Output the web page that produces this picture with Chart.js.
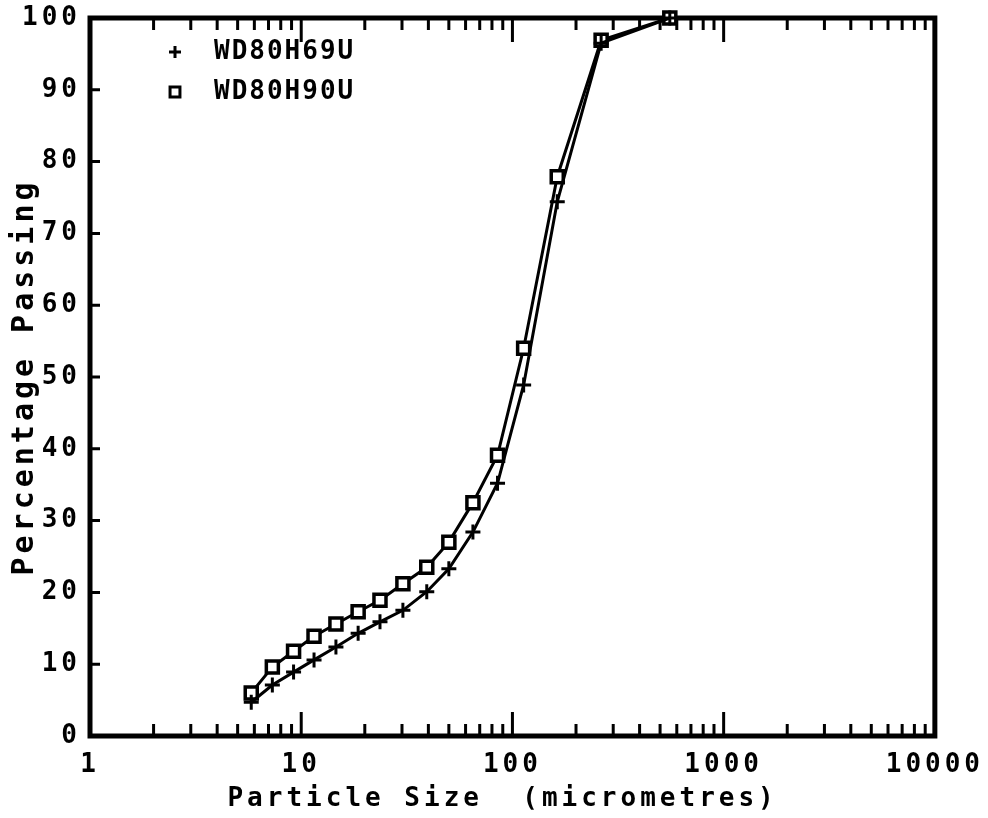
<!DOCTYPE html>
<html>
<head>
<meta charset="utf-8">
<title>Particle size distribution</title>
<script src="https://cdn.jsdelivr.net/npm/chart.js@4.4.1/dist/chart.umd.min.js"></script>
<style>
    html, body { margin: 0; padding: 0; background: #fff; }
    #wrap { width: 988px; height: 818px; }
</style>
</head>
<body>
<div id="wrap"><canvas id="psdChart" width="988" height="818"></canvas></div>
<script>
// particle sizes (micrometres), shared by both samples
const sizes = [5.8, 7.3, 9.2, 11.5, 14.6, 18.6, 23.6, 30.3, 39.3, 50, 65, 85, 113, 163, 263, 556];
// cumulative percentage passing
const passingH69 = [4.7, 7.1, 8.9, 10.6, 12.4, 14.3, 15.9, 17.5, 20.1, 23.3, 28.4, 35.2, 48.9, 74.4, 96.5, 100];
const passingH90 = [6.0, 9.6, 11.8, 13.9, 15.6, 17.3, 18.9, 21.2, 23.5, 27.0, 32.5, 39.1, 54.0, 77.9, 96.9, 100];
const seriesNames = ["WD80H69U", "WD80H90U"];
const xDecades = [1, 10, 100, 1000, 10000];
const yTicks = [0, 10, 20, 30, 40, 50, 60, 70, 80, 90, 100];

const FONT = "'DejaVu Sans Mono', 'Liberation Mono', monospace";

function toPoints(ys) {
    return sizes.map((x, i) => ({ x: x, y: ys[i] }));
}

// thick frame + inward tick marks, drawn from the chart's own scales
const frameAndTicks = {
    id: "frameAndTicks",
    beforeDatasetsDraw(chart) {
        const { ctx, chartArea: a, scales } = chart;
        ctx.save();
        ctx.strokeStyle = "#000";
        ctx.lineWidth = 5;
        ctx.strokeRect(a.left, a.top, a.right - a.left, a.bottom - a.top);

        ctx.lineWidth = 3;
        ctx.beginPath();
        // x: decades long, 2..9 short, bottom and top
        for (let d = 0; d < xDecades.length - 1; d++) {
            for (let k = 1; k <= 10; k++) {
                const v = xDecades[d] * k;
                const px = scales.x.getPixelForValue(v);
                const len = (k === 1 || k === 10) ? 24 : 12;
                ctx.moveTo(px, a.bottom);
                ctx.lineTo(px, a.bottom - len);
                ctx.moveTo(px, a.top);
                ctx.lineTo(px, a.top + len);
            }
        }
        // y: every 10 on the left
        yTicks.forEach(v => {
            const py = scales.y.getPixelForValue(v);
            ctx.moveTo(a.left, py);
            ctx.lineTo(a.left + 10, py);
        });
        ctx.stroke();
        ctx.restore();
    }
};

// legend inside the plot, upper left, one row per series
const insideLegend = {
    id: "insideLegend",
    afterDatasetsDraw(chart) {
        const ctx = chart.ctx;
        ctx.save();
        ctx.font = "bold 26px " + FONT;
        ctx.letterSpacing = "2px";
        ctx.textBaseline = "middle";
        chart.data.datasets.forEach((ds, i) => {
            const y = 52 + i * 40;
            ctx.strokeStyle = "#000";
            ctx.fillStyle = "#fff";
            ctx.lineWidth = 3;
            Chart.helpers.drawPoint(ctx, {
                pointStyle: ds.pointStyle,
                radius: ds.pointStyle === "rect" ? 7 : 6,
                borderWidth: 3
            }, 175, y);
            ctx.fillStyle = "#000";
            ctx.fillText(ds.label, 214, y);
        });
        ctx.restore();
    }
};

const spacing = {
    id: "spacing",
    beforeDraw(chart) {
        chart.ctx.letterSpacing = "4px";
    }
};

const ctx = document.getElementById("psdChart");

new Chart(ctx, {
    type: "line",
    data: {
        datasets: [
            {
                label: seriesNames[0],
                data: toPoints(passingH69),
                borderColor: "#000",
                borderWidth: 3,
                pointStyle: "cross",
                pointRadius: 7.5,
                pointBorderWidth: 3,
                pointBorderColor: "#000",
                tension: 0,
                clip: false
            },
            {
                label: seriesNames[1],
                data: toPoints(passingH90),
                borderColor: "#000",
                borderWidth: 3,
                pointStyle: "rect",
                pointRadius: 8.5,
                pointBorderWidth: 3.5,
                pointBorderColor: "#000",
                pointBackgroundColor: "#fff",
                tension: 0,
                clip: false
            }
        ]
    },
    options: {
        responsive: false,
        animation: false,
        layout: {
            padding: { left: 0, top: 18, right: 53, bottom: 0 }
        },
        plugins: {
            legend: { display: false },
            tooltip: { enabled: false }
        },
        scales: {
            x: {
                type: "logarithmic",
                min: 1,
                max: 10000,
                afterBuildTicks: scale => {
                    scale.ticks = xDecades.map(v => ({ value: v }));
                },
                afterFit: scale => { scale.height = 82; },
                grid: { display: false, drawTicks: false },
                border: { display: false },
                ticks: {
                    autoSkip: false,
                    maxRotation: 0,
                    padding: 14,
                    color: "#000",
                    font: { family: FONT, size: 26, weight: "bold" },
                    callback: v => String(v)
                },
                title: {
                    display: true,
                    text: "Particle Size  (micrometres) ",
                    color: "#000",
                    font: { family: FONT, size: 26, weight: "bold" },
                    padding: { top: 0, bottom: 3 }
                }
            },
            y: {
                min: 0,
                max: 100,
                afterBuildTicks: scale => {
                    scale.ticks = yTicks.map(v => ({ value: v }));
                },
                afterFit: scale => {
                    scale.width = 90;
                    scale.paddingTop = 0;
                    scale.paddingBottom = 0;
                },
                grid: { display: false, drawTicks: false },
                border: { display: false },
                ticks: {
                    padding: 9,
                    color: "#000",
                    font: { family: FONT, size: 26, weight: "bold", lineHeight: 1 }
                },
                title: {
                    display: true,
                    text: "Percentage Passing",
                    color: "#000",
                    font: { family: FONT, size: 30, weight: "bold" },
                    padding: { top: 7, bottom: 0 }
                }
            }
        }
    },
    plugins: [spacing, frameAndTicks, insideLegend]
});
</script>
</body>
</html>
